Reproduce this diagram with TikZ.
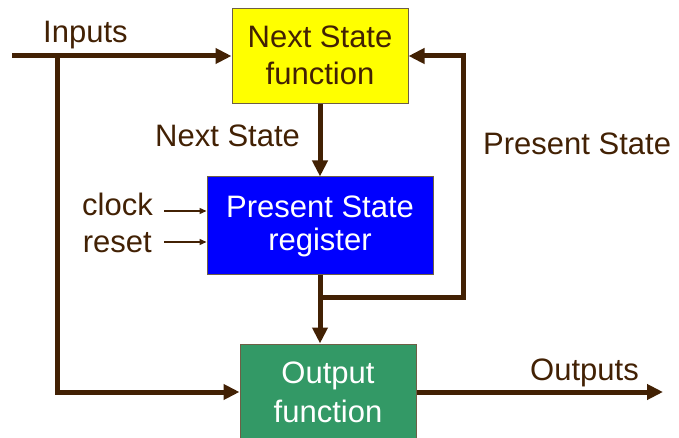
\documentclass[tikz,border=0pt]{standalone}
\usepackage{fontspec}
\setmainfont{Liberation Sans}
\usetikzlibrary{arrows.meta}
\definecolor{brn}{RGB}{66,33,4}
\definecolor{ylw}{RGB}{255,255,0}
\definecolor{blu}{RGB}{0,0,255}
\definecolor{grn}{RGB}{51,153,102}
\definecolor{bord}{RGB}{110,95,70}
\tikzset{
  blk/.style={draw=bord, line width=1pt, inner sep=0pt},
  wire/.style={draw=brn, line width=5pt},
  arr/.style={wire, -{Triangle[length=16pt,width=15pt]}},
  thinarr/.style={draw=brn, line width=1.3pt, -{Triangle[length=7pt,width=6pt]}},
  lbl/.style={text=brn, font=\fontsize{31}{37}\selectfont, inner sep=0pt},
  wlbl/.style={text=white, font=\fontsize{31}{37}\selectfont, inner sep=0pt},
}
\begin{document}
\begin{tikzpicture}[x=1pt,y=-1pt]
\useasboundingbox (0,0) rectangle (679,438);
\clip (0,0) rectangle (679,438);
% boxes
\node[blk, fill=ylw, minimum width=176pt, minimum height=95pt] (ns) at (320,56) {};
\node[blk, fill=blu, minimum width=226pt, minimum height=97pt] (ps) at (320,225.5) {};
\node[blk, fill=grn, minimum width=176pt, minimum height=96pt] (of) at (328,392) {};
% box texts
\node[lbl, anchor=base] (ns1) at (320,48) {Next State};
\node[lbl, anchor=base] (ns2) at (320,85) {function};
\node[wlbl, anchor=base] (ps1) at (320,218) {Present State};
\node[wlbl, anchor=base] (ps2) at (320,250) {register};
\node[wlbl, anchor=base] (of1) at (328,383) {Output};
\node[wlbl, anchor=base] (of2) at (328,422) {function};
% labels
\node[lbl, anchor=base west] (inl) at (43,43) {Inputs};
\node[lbl, anchor=base west] (nsl) at (155,147) {Next State};
\node[lbl, anchor=base west] (psl) at (483,155) {Present State};
\node[lbl, anchor=base west] (outl) at (530,380) {Outputs};
\node[lbl, anchor=base east] (clkl) at (153,215) {clock};
\node[lbl, anchor=base east] (rstl) at (152,252) {reset};
% coordinates
\coordinate (in) at (12,56);
\coordinate (inb) at (57,56);
\coordinate (fb) at (320,297);
\coordinate (fbr) at (463,297);
\coordinate (out) at (663,392);
\coordinate (clk) at (164,211);
\coordinate (rst) at (164,242);
% wires
\draw[arr] (in) -- (ns.west);
\draw[arr] (inb) |- (of.west);
\draw[arr] (ns.south) -- (ps.north);
\draw[arr] (ps.south) -- (ps.south |- of.north);
\draw[arr] (fb) -- (fbr) |- (ns.east);
\draw[arr] (of.east) -- (out);
\draw[thinarr] (clk) -- (ps.west |- clk);
\draw[thinarr] (rst) -- (ps.west |- rst);
\end{tikzpicture}
\end{document}
